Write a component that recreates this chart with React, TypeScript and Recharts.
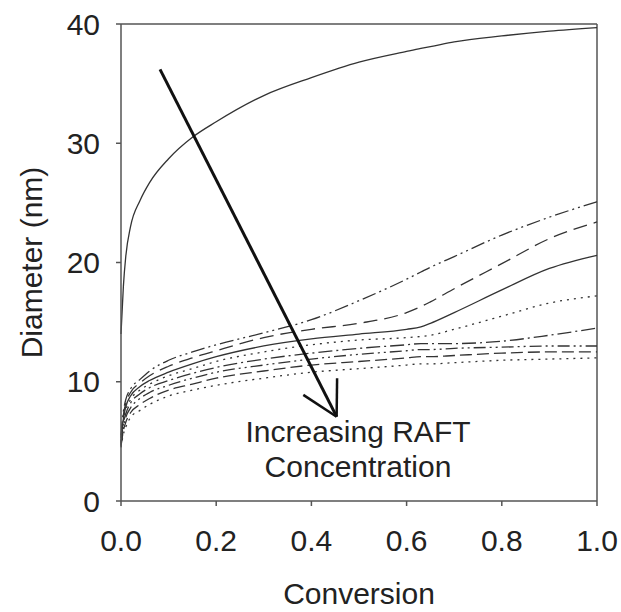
import { LineChart, Line, XAxis, YAxis, ReferenceLine, Label } from 'recharts'

// conversion values shared by all curves
const conversion = [0, 0.005, 0.01, 0.02, 0.04, 0.06, 0.1, 0.15, 0.2, 0.3, 0.4, 0.5, 0.6, 0.63, 0.65, 0.7, 0.8, 0.9, 1.0]

// no RAFT agent
const noRaft = [14, 18, 20.5, 23, 25.2, 26.7, 28.7, 30.5, 31.8, 34.0, 35.5, 36.8, 37.7, 37.95, 38.1, 38.5, 39.0, 39.4, 39.7]

// increasing RAFT concentration, top to bottom
const raft1 = [5.5, 7.5, 8.5, 9.4, 10.2, 10.9, 11.8, 12.5, 13.1, 14.1, 15.2, 16.8, 18.6, 19.2, 19.6, 20.5, 22.3, 23.8, 25.1]
const raft2 = [5.3, 7.2, 8.2, 9.1, 9.9, 10.5, 11.3, 12.0, 12.6, 13.7, 14.4, 14.9, 15.8, 16.3, 16.7, 17.8, 19.9, 22.0, 23.4]
const raft3 = [5.0, 6.9, 7.9, 8.8, 9.6, 10.1, 10.8, 11.5, 12.1, 13.0, 13.6, 14.0, 14.4, 14.6, 14.9, 15.8, 17.7, 19.5, 20.6]
const raft4 = [4.9, 6.7, 7.6, 8.5, 9.3, 9.8, 10.5, 11.1, 11.7, 12.5, 13.1, 13.5, 13.7, 13.8, 13.9, 14.4, 15.5, 16.6, 17.2]
const raft5 = [4.8, 6.5, 7.3, 8.2, 9.0, 9.5, 10.1, 10.7, 11.2, 11.9, 12.4, 12.8, 13.1, 13.2, 13.2, 13.2, 13.4, 13.9, 14.5]
const raft6 = [4.7, 6.2, 7.0, 7.8, 8.6, 9.1, 9.7, 10.3, 10.8, 11.4, 11.9, 12.3, 12.6, 12.7, 12.7, 12.8, 12.9, 13.0, 13.0]
const raft7 = [4.6, 5.9, 6.6, 7.4, 8.1, 8.6, 9.3, 9.8, 10.3, 10.9, 11.4, 11.7, 12.0, 12.1, 12.1, 12.2, 12.4, 12.5, 12.5]
const raft8 = [4.5, 5.6, 6.2, 7.0, 7.6, 8.1, 8.8, 9.3, 9.7, 10.3, 10.8, 11.1, 11.4, 11.5, 11.5, 11.6, 11.8, 11.9, 12.0]

const xTicks = [0, 0.2, 0.4, 0.6, 0.8, 1.0]
const yTicks = [0, 10, 20, 30, 40]

const data = conversion.map((x, i) => ({
  x,
  noRaft: noRaft[i],
  raft1: raft1[i],
  raft2: raft2[i],
  raft3: raft3[i],
  raft4: raft4[i],
  raft5: raft5[i],
  raft6: raft6[i],
  raft7: raft7[i],
  raft8: raft8[i],
}))

const series = [
  { key: 'noRaft', dash: undefined },
  { key: 'raft1', dash: '14 4 2 4 2 4' },
  { key: 'raft2', dash: '14 7' },
  { key: 'raft3', dash: undefined },
  { key: 'raft4', dash: '2 5' },
  { key: 'raft5', dash: '14 4 2 4' },
  { key: 'raft6', dash: '12 4 2 4 2 4' },
  { key: 'raft7', dash: '12 5' },
  { key: 'raft8', dash: '2 5' },
]

const font = '"Liberation Sans", Arial, sans-serif'
const axisColor = '#555'

export default function App() {
  return (
    <div style={{ position: 'absolute', left: 0, top: 0, width: 621, height: 612, background: '#fff', fontFamily: font }}>
      <LineChart width={621} height={612} data={data} margin={{ top: 24, right: 24, left: 0, bottom: 0 }}>
        <XAxis
          dataKey="x"
          type="number"
          domain={[0, 1]}
          ticks={xTicks}
          tickFormatter={(v: number) => v.toFixed(1)}
          height={111}
          stroke={axisColor}
          strokeWidth={1.5}
          tickSize={5}
          tickMargin={24}
          tick={{ fill: '#222', fontSize: 30, fontFamily: font }}
        >
          <Label value="Conversion" position="insideBottom" offset={8} style={{ fill: '#222', fontSize: 30, fontFamily: font }} />
        </XAxis>
        <YAxis
          type="number"
          domain={[0, 40]}
          ticks={yTicks}
          width={121}
          stroke={axisColor}
          strokeWidth={1.5}
          tickSize={5}
          tickMargin={16}
          tick={{ fill: '#222', fontSize: 30, fontFamily: font }}
        >
          <Label
            value="Diameter (nm)"
            position="insideLeft"
            offset={31}
            angle={-90}
            style={{ fill: '#222', fontSize: 30, fontFamily: font, textAnchor: 'middle' }}
          />
        </YAxis>
        <ReferenceLine y={40} stroke={axisColor} strokeWidth={1.5} />
        <ReferenceLine x={1} stroke={axisColor} strokeWidth={1.5} />
        {series.map((s) => (
          <Line
            key={s.key}
            dataKey={s.key}
            type="monotone"
            stroke="#333"
            strokeWidth={1.3}
            strokeDasharray={s.dash}
            dot={false}
            activeDot={false}
            isAnimationActive={false}
          />
        ))}
        {/* arrow */}
        <ReferenceLine segment={[{ x: 0.082, y: 36.2 }, { x: 0.453, y: 7.07 }]} stroke="#111" strokeWidth={3} />
        <ReferenceLine segment={[{ x: 0.453, y: 7.07 }, { x: 0.454, y: 10.3 }]} stroke="#111" strokeWidth={2.5} />
        <ReferenceLine segment={[{ x: 0.453, y: 7.07 }, { x: 0.383, y: 8.9 }]} stroke="#111" strokeWidth={2.5} />
      </LineChart>
      <div
        style={{
          position: 'absolute',
          left: 200,
          top: 414,
          width: 316,
          textAlign: 'center',
          fontSize: 30,
          lineHeight: '35px',
          color: '#222',
        }}
      >
        Increasing RAFT
        <br />
        Concentration
      </div>
    </div>
  )
}
